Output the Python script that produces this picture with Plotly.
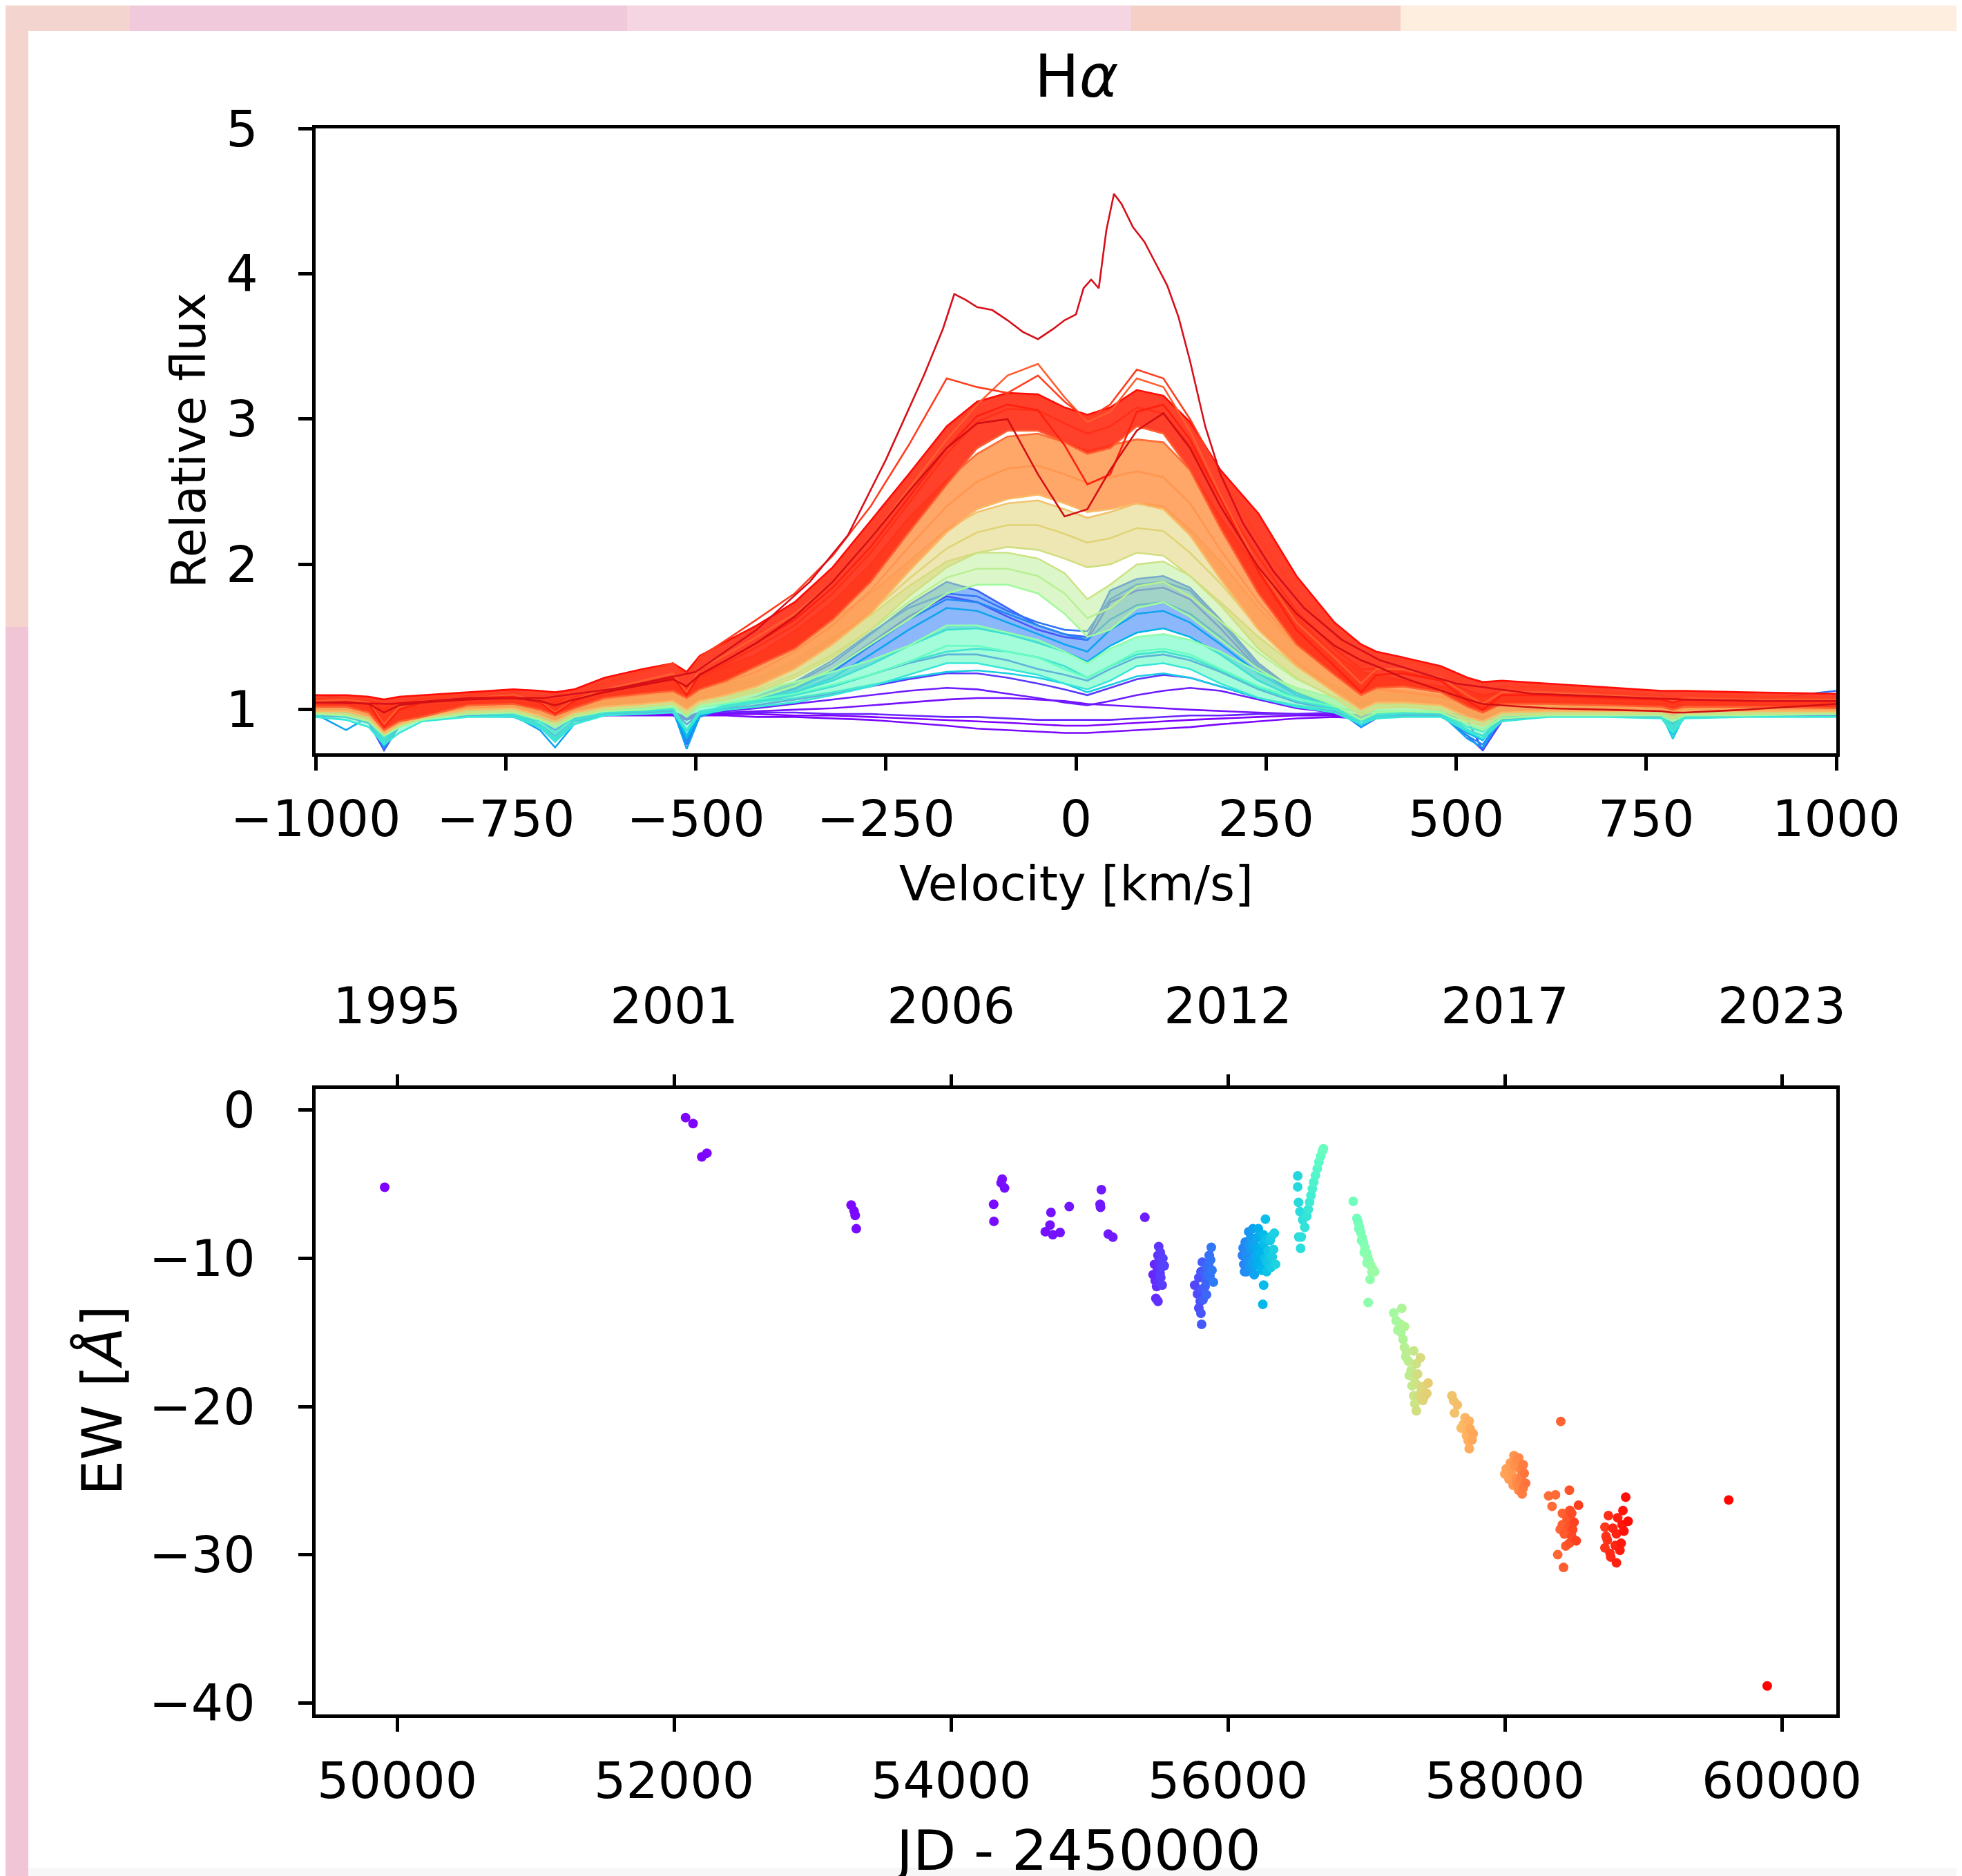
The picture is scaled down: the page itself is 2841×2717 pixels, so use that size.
import math
import plotly.graph_objects as go

W, H = 2841, 2717
FONT = "DejaVu Sans"

# ---------------- Top panel: H-alpha profiles (velocity km/s -> relative flux) ----------------
velocity = [-1000, -960, -930, -910, -890, -860, -800, -740, -705, -685,
            -660, -620, -570, -530, -512, -495, -460, -420, -370, -320,
            -270, -220, -170, -130, -90, -50, -15, 15, 45, 80,
            115, 150, 190, 240, 290, 340, 375, 395, 430, 480,
            515, 535, 560, 620, 700, 770, 785, 800, 880, 1000]

# earliest spectra (purple)
pur_a = [0.97, 0.97, 0.96, 0.92, 0.96, 0.97, 0.97, 0.97, 0.95, 0.93,
         0.96, 0.97, 0.97, 0.97, 0.94, 0.97, 0.97, 0.97, 0.96, 0.96,
         0.95, 0.94, 0.93, 0.92, 0.91, 0.90, 0.89, 0.89, 0.90, 0.91,
         0.92, 0.93, 0.94, 0.95, 0.96, 0.96, 0.95, 0.96, 0.96, 0.97,
         0.95, 0.94, 0.96, 0.97, 0.97, 0.97, 0.96, 0.97, 0.97, 0.97]
pur_b = [0.96, 0.96, 0.95, 0.90, 0.95, 0.96, 0.96, 0.96, 0.94, 0.92,
         0.95, 0.96, 0.96, 0.96, 0.93, 0.96, 0.96, 0.95, 0.95, 0.94,
         0.93, 0.91, 0.89, 0.87, 0.86, 0.85, 0.84, 0.84, 0.85, 0.86,
         0.87, 0.88, 0.90, 0.92, 0.94, 0.95, 0.94, 0.95, 0.96, 0.96,
         0.94, 0.93, 0.95, 0.96, 0.96, 0.96, 0.95, 0.96, 0.96, 0.96]
pur_c = [0.97, 0.97, 0.96, 0.93, 0.96, 0.97, 0.97, 0.97, 0.95, 0.94,
         0.96, 0.97, 0.97, 0.98, 0.95, 0.98, 0.98, 0.99, 1.00, 1.01,
         1.03, 1.05, 1.07, 1.08, 1.08, 1.07, 1.06, 1.04, 1.03, 1.02,
         1.01, 1.00, 0.99, 0.98, 0.97, 0.97, 0.96, 0.97, 0.97, 0.97,
         0.95, 0.94, 0.96, 0.97, 0.97, 0.97, 0.96, 0.97, 0.97, 0.97]
pur_d = [0.97, 0.97, 0.96, 0.92, 0.96, 0.97, 0.97, 0.97, 0.95, 0.93,
         0.96, 0.97, 0.98, 0.98, 0.94, 0.98, 0.99, 1.01, 1.04, 1.07,
         1.10, 1.13, 1.15, 1.14, 1.11, 1.08, 1.05, 1.03, 1.06, 1.10,
         1.13, 1.15, 1.13, 1.07, 1.01, 0.98, 0.95, 0.97, 0.97, 0.97,
         0.94, 0.93, 0.96, 0.97, 0.97, 0.97, 0.96, 0.97, 0.97, 0.97]
pur_e = [0.98, 0.98, 0.97, 0.93, 0.97, 0.98, 0.98, 0.98, 0.96, 0.94,
         0.97, 0.98, 0.98, 0.98, 0.95, 0.98, 0.98, 0.98, 0.98, 0.97,
         0.97, 0.96, 0.95, 0.95, 0.94, 0.93, 0.93, 0.93, 0.93, 0.94,
         0.95, 0.96, 0.96, 0.97, 0.97, 0.98, 0.96, 0.97, 0.98, 0.98,
         0.96, 0.95, 0.97, 0.98, 0.98, 0.98, 0.97, 0.98, 0.98, 0.98]

# blue spectra
blue_a = [0.97, 0.96, 0.94, 0.86, 0.93, 0.96, 0.97, 0.97, 0.93, 0.88,
          0.95, 0.97, 0.98, 0.99, 0.90, 0.97, 1.00, 1.03, 1.07, 1.11,
          1.16, 1.21, 1.25, 1.25, 1.22, 1.18, 1.14, 1.10, 1.15, 1.21,
          1.24, 1.22, 1.16, 1.08, 1.02, 0.99, 0.95, 0.97, 0.97, 0.97,
          0.93, 0.72, 0.92, 0.97, 0.97, 0.97, 0.95, 0.96, 0.97, 0.97]
blue_b = [0.97, 0.96, 0.93, 0.82, 0.92, 0.96, 0.97, 0.96, 0.92, 0.86,
          0.94, 0.97, 0.98, 0.99, 0.86, 0.97, 1.01, 1.05, 1.10, 1.16,
          1.24, 1.32, 1.38, 1.38, 1.34, 1.28, 1.24, 1.20, 1.28, 1.36,
          1.38, 1.34, 1.26, 1.14, 1.05, 1.00, 0.94, 0.96, 0.97, 0.97,
          0.90, 0.86, 0.95, 0.97, 0.97, 0.96, 0.94, 0.96, 0.97, 0.97]
blue_c = [0.96, 0.95, 0.91, 0.72, 0.89, 0.95, 0.96, 0.95, 0.88, 0.80,
          0.92, 0.96, 0.98, 0.99, 0.76, 0.95, 1.01, 1.06, 1.15, 1.28,
          1.46, 1.64, 1.78, 1.74, 1.64, 1.55, 1.50, 1.48, 1.74, 1.82,
          1.84, 1.76, 1.56, 1.28, 1.10, 1.01, 0.88, 0.94, 0.96, 0.96,
          0.82, 0.72, 0.93, 0.96, 0.96, 0.95, 0.91, 0.95, 0.96, 0.97]
blue_d = [0.97, 0.96, 0.92, 0.74, 0.90, 0.96, 0.97, 0.96, 0.89, 0.80,
          0.93, 0.97, 0.99, 1.00, 0.78, 0.96, 1.02, 1.08, 1.18, 1.32,
          1.52, 1.72, 1.88, 1.82, 1.70, 1.58, 1.52, 1.50, 1.82, 1.90,
          1.92, 1.84, 1.62, 1.32, 1.12, 1.02, 0.90, 0.95, 0.97, 0.97,
          0.84, 0.80, 0.94, 0.97, 0.97, 0.96, 0.90, 0.96, 0.97, 0.97]
blue_e = [1.10, 1.08, 0.93, 0.78, 0.91, 0.96, 0.97, 0.96, 0.90, 0.82,
          0.93, 0.97, 0.99, 1.00, 0.80, 0.97, 1.03, 1.09, 1.19, 1.34,
          1.53, 1.70, 1.80, 1.78, 1.68, 1.60, 1.55, 1.54, 1.76, 1.86,
          1.88, 1.82, 1.60, 1.30, 1.12, 1.03, 0.92, 0.96, 0.97, 0.97,
          0.86, 0.82, 0.95, 0.97, 0.97, 0.96, 0.92, 0.96, 1.06, 1.13]

# cyan spectra
cyan_a = [0.97, 0.96, 0.92, 0.76, 0.91, 0.96, 0.97, 0.96, 0.88, 0.78,
          0.92, 0.97, 0.99, 1.00, 0.77, 0.96, 1.02, 1.07, 1.14, 1.26,
          1.44, 1.62, 1.76, 1.74, 1.66, 1.58, 1.52, 1.48, 1.62, 1.72,
          1.74, 1.66, 1.50, 1.28, 1.12, 1.03, 0.90, 0.95, 0.97, 0.97,
          0.82, 0.76, 0.95, 0.97, 0.97, 0.96, 0.90, 0.96, 0.97, 0.98]
cyan_b = [0.97, 0.86, 0.95, 0.74, 0.90, 0.96, 0.97, 0.96, 0.86, 0.74,
          0.90, 0.97, 0.99, 1.00, 0.73, 0.95, 1.02, 1.06, 1.12, 1.22,
          1.38, 1.55, 1.70, 1.68, 1.60, 1.52, 1.45, 1.40, 1.55, 1.66,
          1.68, 1.60, 1.45, 1.25, 1.10, 1.02, 0.88, 0.95, 0.97, 0.97,
          0.80, 0.74, 0.95, 0.97, 0.97, 0.96, 0.83, 0.95, 0.97, 0.97]
cyan_c = [0.98, 0.96, 0.94, 0.80, 0.93, 0.97, 0.98, 0.97, 0.89, 0.79,
          0.93, 0.98, 1.00, 1.01, 0.80, 0.97, 1.03, 1.07, 1.12, 1.20,
          1.31, 1.44, 1.55, 1.56, 1.52, 1.46, 1.40, 1.33, 1.44, 1.53,
          1.56, 1.50, 1.38, 1.20, 1.08, 1.02, 0.90, 0.96, 0.98, 0.98,
          0.84, 0.79, 0.96, 0.98, 0.98, 0.97, 0.86, 0.96, 0.98, 0.98]
cyan_d = [0.98, 0.95, 0.93, 0.78, 0.92, 0.97, 0.98, 0.97, 0.90, 0.80,
          0.93, 0.98, 1.00, 1.01, 0.82, 0.98, 1.03, 1.06, 1.10, 1.16,
          1.24, 1.33, 1.40, 1.42, 1.40, 1.36, 1.30, 1.22, 1.30, 1.38,
          1.40, 1.36, 1.27, 1.15, 1.06, 1.01, 0.92, 0.97, 0.98, 0.98,
          0.86, 0.82, 0.96, 0.98, 0.98, 0.97, 0.88, 0.96, 0.98, 0.98]
cyan_e = [0.99, 0.97, 0.95, 0.82, 0.94, 0.98, 0.99, 0.98, 0.92, 0.84,
          0.95, 0.99, 1.00, 1.01, 0.86, 0.99, 1.02, 1.05, 1.08, 1.12,
          1.17, 1.22, 1.26, 1.27, 1.25, 1.22, 1.18, 1.12, 1.17, 1.23,
          1.25, 1.22, 1.16, 1.08, 1.03, 1.00, 0.93, 0.97, 0.98, 0.98,
          0.88, 0.85, 0.96, 0.98, 0.98, 0.97, 0.80, 0.96, 0.98, 0.99]

# green bundle (lower / middle / upper)
grn_lo = [0.95, 0.93, 0.88, 0.76, 0.84, 0.92, 0.95, 0.95, 0.88, 0.78,
          0.90, 0.96, 0.97, 0.98, 0.85, 0.97, 1.00, 1.02, 1.05, 1.10,
          1.16, 1.24, 1.32, 1.32, 1.28, 1.24, 1.18, 1.14, 1.20, 1.30,
          1.32, 1.28, 1.18, 1.08, 1.02, 0.98, 0.90, 0.94, 0.95, 0.95,
          0.85, 0.80, 0.92, 0.95, 0.95, 0.94, 0.84, 0.94, 0.95, 0.95]
grn_mid = [0.99, 0.99, 0.97, 0.90, 0.95, 0.98, 0.99, 0.99, 0.96, 0.92,
           0.97, 1.00, 1.01, 1.02, 0.96, 1.02, 1.04, 1.07, 1.11, 1.17,
           1.24, 1.33, 1.44, 1.44, 1.40, 1.36, 1.28, 1.22, 1.30, 1.40,
           1.42, 1.38, 1.28, 1.16, 1.08, 1.02, 0.98, 0.99, 0.99, 0.99,
           0.94, 0.92, 0.97, 0.98, 0.98, 0.98, 0.95, 0.98, 0.98, 0.99]
grn_hi = [1.03, 1.03, 1.02, 1.00, 1.01, 1.02, 1.03, 1.03, 1.02, 1.01,
          1.02, 1.04, 1.06, 1.07, 1.03, 1.08, 1.10, 1.13, 1.19, 1.26,
          1.34, 1.44, 1.58, 1.58, 1.53, 1.48, 1.40, 1.32, 1.42, 1.50,
          1.52, 1.48, 1.40, 1.26, 1.15, 1.08, 1.05, 1.04, 1.03, 1.03,
          1.01, 1.00, 1.01, 1.02, 1.02, 1.02, 1.01, 1.02, 1.02, 1.03]

# yellow-green bundle
ygr_lo = [0.97, 0.96, 0.92, 0.82, 0.88, 0.93, 0.97, 0.98, 0.93, 0.88,
          0.95, 0.99, 1.00, 1.02, 0.95, 1.02, 1.05, 1.08, 1.16, 1.28,
          1.45, 1.62, 1.80, 1.86, 1.86, 1.80, 1.66, 1.50, 1.55, 1.70,
          1.74, 1.64, 1.48, 1.28, 1.13, 1.03, 0.93, 0.98, 0.99, 0.98,
          0.90, 0.86, 0.94, 0.96, 0.96, 0.96, 0.92, 0.96, 0.96, 0.97]
ygr_mid = [1.01, 1.01, 0.99, 0.94, 0.97, 0.99, 1.01, 1.02, 1.00, 0.97,
           1.01, 1.03, 1.05, 1.07, 1.03, 1.08, 1.11, 1.14, 1.24, 1.38,
           1.55, 1.74, 1.91, 1.97, 1.97, 1.92, 1.80, 1.63, 1.70, 1.85,
           1.88, 1.78, 1.61, 1.39, 1.21, 1.09, 1.03, 1.05, 1.04, 1.03,
           0.98, 0.96, 0.99, 1.00, 1.00, 1.00, 0.99, 1.00, 1.00, 1.01]
ygr_hi = [1.05, 1.05, 1.04, 1.02, 1.03, 1.04, 1.05, 1.06, 1.05, 1.04,
          1.06, 1.08, 1.11, 1.13, 1.09, 1.15, 1.18, 1.22, 1.34, 1.50,
          1.65, 1.85, 2.02, 2.08, 2.08, 2.04, 1.94, 1.76, 1.86, 2.00,
          2.02, 1.92, 1.74, 1.50, 1.30, 1.16, 1.12, 1.12, 1.10, 1.08,
          1.04, 1.03, 1.04, 1.05, 1.04, 1.04, 1.04, 1.04, 1.04, 1.05]

# khaki bundle
kha_lo = [0.98, 0.97, 0.93, 0.83, 0.89, 0.94, 0.98, 0.99, 0.94, 0.90,
          0.96, 1.00, 1.02, 1.04, 0.97, 1.04, 1.07, 1.12, 1.22, 1.36,
          1.55, 1.78, 1.98, 2.08, 2.12, 2.10, 2.04, 1.98, 2.00, 2.08,
          2.06, 1.92, 1.72, 1.42, 1.22, 1.08, 0.96, 1.01, 1.02, 1.00,
          0.92, 0.89, 0.96, 0.97, 0.97, 0.97, 0.94, 0.97, 0.97, 0.98]
kha_mid = [1.02, 1.02, 1.00, 0.95, 0.98, 1.01, 1.02, 1.03, 1.01, 0.99,
           1.02, 1.05, 1.07, 1.09, 1.05, 1.11, 1.15, 1.20, 1.32, 1.48,
           1.67, 1.90, 2.11, 2.22, 2.27, 2.27, 2.21, 2.15, 2.18, 2.25,
           2.23, 2.08, 1.87, 1.56, 1.33, 1.15, 1.06, 1.08, 1.07, 1.05,
           1.00, 0.98, 1.01, 1.01, 1.01, 1.01, 1.00, 1.01, 1.01, 1.02]
kha_hi = [1.06, 1.06, 1.05, 1.02, 1.04, 1.06, 1.07, 1.07, 1.06, 1.05,
          1.07, 1.10, 1.13, 1.16, 1.12, 1.19, 1.24, 1.30, 1.44, 1.62,
          1.80, 2.02, 2.24, 2.36, 2.42, 2.44, 2.38, 2.32, 2.36, 2.42,
          2.40, 2.24, 2.02, 1.70, 1.44, 1.25, 1.16, 1.15, 1.13, 1.10,
          1.06, 1.04, 1.06, 1.06, 1.05, 1.05, 1.05, 1.05, 1.05, 1.06]

# orange bundle
org_lo = [0.99, 0.99, 0.95, 0.84, 0.90, 0.95, 1.00, 1.01, 0.96, 0.92,
          0.98, 1.02, 1.04, 1.06, 1.00, 1.06, 1.10, 1.16, 1.28, 1.45,
          1.66, 1.95, 2.22, 2.38, 2.45, 2.48, 2.42, 2.36, 2.38, 2.42,
          2.38, 2.20, 1.90, 1.55, 1.30, 1.12, 1.00, 1.05, 1.05, 1.03,
          0.95, 0.92, 0.98, 0.99, 0.99, 0.99, 0.97, 0.99, 0.99, 0.99]
org_mid = [1.03, 1.03, 1.02, 0.97, 1.00, 1.02, 1.04, 1.05, 1.03, 1.01,
           1.04, 1.07, 1.10, 1.12, 1.08, 1.14, 1.19, 1.26, 1.40, 1.58,
           1.82, 2.12, 2.40, 2.57, 2.66, 2.68, 2.62, 2.56, 2.60, 2.64,
           2.60, 2.42, 2.10, 1.74, 1.45, 1.24, 1.12, 1.14, 1.12, 1.09,
           1.04, 1.02, 1.04, 1.04, 1.03, 1.03, 1.02, 1.03, 1.03, 1.03]
org_hi = [1.07, 1.07, 1.06, 1.04, 1.05, 1.07, 1.08, 1.09, 1.08, 1.07,
          1.09, 1.13, 1.17, 1.20, 1.15, 1.22, 1.30, 1.38, 1.54, 1.74,
          2.00, 2.32, 2.58, 2.76, 2.88, 2.90, 2.84, 2.78, 2.82, 2.86,
          2.84, 2.65, 2.32, 1.96, 1.64, 1.38, 1.26, 1.24, 1.20, 1.16,
          1.11, 1.09, 1.10, 1.09, 1.08, 1.07, 1.07, 1.07, 1.07, 1.07]

# red bundle
red_lo = [1.02, 1.02, 0.98, 0.86, 0.92, 0.95, 1.03, 1.04, 1.00, 0.96,
          1.01, 1.08, 1.11, 1.13, 1.08, 1.14, 1.20, 1.30, 1.42, 1.62,
          1.88, 2.22, 2.55, 2.80, 2.92, 2.92, 2.84, 2.76, 2.80, 2.95,
          2.90, 2.65, 2.25, 1.80, 1.45, 1.24, 1.10, 1.15, 1.16, 1.12,
          1.02, 0.98, 1.04, 1.04, 1.03, 1.02, 1.00, 1.02, 1.02, 1.01]
red_mid = [1.06, 1.06, 1.05, 1.00, 1.03, 1.05, 1.08, 1.09, 1.07, 1.05,
           1.08, 1.14, 1.18, 1.21, 1.15, 1.23, 1.32, 1.43, 1.58, 1.80,
           2.08, 2.42, 2.76, 2.98, 3.07, 3.06, 2.97, 2.90, 2.95, 3.08,
           3.04, 2.82, 2.45, 2.05, 1.68, 1.42, 1.28, 1.28, 1.26, 1.21,
           1.13, 1.10, 1.12, 1.11, 1.09, 1.08, 1.07, 1.08, 1.07, 1.06]
red_hi = [1.10, 1.10, 1.09, 1.07, 1.09, 1.10, 1.12, 1.14, 1.13, 1.12,
          1.14, 1.22, 1.28, 1.32, 1.26, 1.37, 1.47, 1.58, 1.74, 1.98,
          2.30, 2.62, 2.95, 3.12, 3.18, 3.17, 3.08, 3.03, 3.08, 3.20,
          3.16, 2.98, 2.65, 2.35, 1.92, 1.60, 1.45, 1.40, 1.36, 1.30,
          1.22, 1.19, 1.20, 1.18, 1.15, 1.13, 1.13, 1.13, 1.12, 1.11]

# individual strong red spectra
red_x1 = [1.06, 1.07, 1.05, 0.90, 1.02, 1.06, 1.08, 1.10, 1.06, 0.98,
          1.07, 1.14, 1.20, 1.25, 1.12, 1.28, 1.38, 1.50, 1.66, 1.88,
          2.18, 2.52, 2.86, 3.10, 3.30, 3.38, 3.15, 2.98, 3.05, 3.28,
          3.22, 2.92, 2.48, 1.98, 1.60, 1.36, 1.18, 1.28, 1.28, 1.22,
          1.10, 1.04, 1.12, 1.12, 1.10, 1.08, 1.06, 1.08, 1.07, 1.07]
red_x2 = [1.08, 1.08, 1.07, 0.96, 1.05, 1.08, 1.10, 1.12, 1.09, 1.03,
          1.10, 1.18, 1.26, 1.32, 1.22, 1.36, 1.48, 1.62, 1.80, 2.06,
          2.40, 2.82, 3.28, 3.22, 3.18, 3.30, 3.12, 3.00, 3.10, 3.34,
          3.28, 3.00, 2.62, 2.18, 1.80, 1.52, 1.30, 1.36, 1.34, 1.28,
          1.16, 1.12, 1.16, 1.15, 1.12, 1.10, 1.08, 1.10, 1.09, 1.08]
red_x3 = [1.05, 1.05, 1.04, 0.88, 1.00, 1.05, 1.08, 1.09, 1.05, 0.97,
          1.06, 1.13, 1.18, 1.22, 1.10, 1.24, 1.34, 1.46, 1.62, 1.84,
          2.12, 2.46, 2.80, 3.02, 3.10, 3.06, 2.82, 2.55, 2.62, 3.05,
          3.10, 2.86, 2.45, 1.95, 1.55, 1.30, 1.12, 1.24, 1.25, 1.20,
          1.06, 1.00, 1.10, 1.10, 1.08, 1.07, 1.05, 1.07, 1.06, 1.06]
red_dip = [1.05, 1.05, 1.04, 0.98, 1.03, 1.05, 1.07, 1.08, 1.06, 1.03,
           1.07, 1.12, 1.17, 1.21, 1.16, 1.24, 1.34, 1.46, 1.64, 1.88,
           2.18, 2.50, 2.80, 2.97, 3.00, 2.62, 2.33, 2.38, 2.65, 2.92,
           3.04, 2.80, 2.40, 1.98, 1.66, 1.44, 1.34, 1.30, 1.22, 1.13,
           1.07, 1.04, 1.03, 1.01, 1.00, 0.99, 0.98, 0.98, 1.00, 1.04]

# latest spectrum (highest peak)
v_last = [-1000, -900, -800, -700, -600, -500, -420, -350, -300, -250,
          -200, -175, -160, -145, -130, -110, -90, -70, -50, -30,
          -15, 0, 10, 20, 30, 40, 50, 60, 75, 90,
          105, 120, 135, 150, 170, 190, 220, 260, 300, 350,
          400, 500, 600, 700, 800, 900, 1000]
f_last = [1.05, 1.04, 1.08, 1.08, 1.15, 1.26, 1.55, 1.88, 2.20, 2.72,
          3.30, 3.62, 3.86, 3.82, 3.77, 3.75, 3.68, 3.60, 3.55, 3.62,
          3.68, 3.72, 3.90, 3.96, 3.90, 4.30, 4.55, 4.48, 4.32, 4.22,
          4.07, 3.92, 3.70, 3.40, 2.95, 2.62, 2.28, 1.95, 1.70, 1.48,
          1.34, 1.18, 1.11, 1.09, 1.07, 1.06, 1.06]

vel_ticks = [-1000, -750, -500, -250, 0, 250, 500, 750, 1000]
vel_ticktext = ["\u22121000", "\u2212750", "\u2212500", "\u2212250", "0", "250", "500", "750", "1000"]
flux_ticks = [1, 2, 3, 4, 5]

# ---------------- Bottom panel: equivalent width vs JD ----------------
ew_jd = [
    # 1995-2010
    49910, 52083, 52137, 52200, 52237, 53279, 53300, 53308, 53316, 54308,
    54310, 54362, 54370, 54387, 54681, 54715, 54722, 54735, 54788, 54854,
    55077, 55080, 55086, 55136, 55169, 55400,
    # ~55500
    55460, 55470, 55475, 55480, 55485, 55490, 55495, 55495, 55500, 55500,
    55505, 55510, 55512, 55515, 55520, 55525, 55530, 55540,
    # ~55800
    55760, 55780, 55790, 55790, 55800, 55805, 55805, 55810, 55810, 55815,
    55820, 55830, 55835, 55840, 55845, 55850, 55855, 55860, 55865, 55870,
    55875, 55880, 55885, 55895,
    # ~56200
    56105, 56110, 56115, 56120, 56125, 56130, 56135, 56140, 56145, 56150,
    56155, 56160, 56165, 56170, 56175, 56180, 56185, 56190, 56195, 56200,
    56205, 56210, 56215, 56220, 56225, 56230, 56240, 56245, 56252, 56255,
    56258, 56260, 56265, 56271, 56275, 56280, 56285, 56290, 56300, 56305,
    56310, 56315, 56320, 56330, 56335, 56344,
    # ~56600
    56504, 56504, 56510, 56512, 56520, 56525, 56530, 56540, 56555, 56570,
    56580, 56590, 56600, 56610, 56620, 56632, 56645, 56657, 56670, 56682,
    56690,
    # ~57000
    56905, 56931, 56940, 56945, 56950, 56960, 56965, 56970, 56980, 56985,
    56990, 57000, 57005, 57010, 57013, 57020, 57027, 57030, 57040, 57045,
    57060,
    # ~57300
    57198, 57215, 57227, 57246, 57250, 57256, 57265, 57275, 57275, 57284,
    57290, 57304, 57310, 57323, 57330, 57342, 57342, 57342, 57350, 57361,
    57361, 57361, 57370, 57380, 57390, 57395, 57408, 57408, 57420, 57437,
    57446,
    # ~57700
    57618, 57630, 57637, 57657, 57685, 57700, 57713, 57723, 57723, 57735,
    57742, 57743, 57750, 57763, 57771,
    # ~58100
    58000, 58010, 58030, 58040, 58050, 58060, 58066, 58070, 58075, 58083,
    58085, 58090, 58100, 58100, 58110, 58116, 58120, 58125, 58133, 58133,
    58140, 58150,
    # ~58400
    58316, 58341, 58366, 58382, 58400, 58404, 58416, 58416, 58424, 58430,
    58440, 58450, 58466, 58466, 58466, 58470, 58483, 58483, 58490, 58500,
    58516, 58532,
    # ~58800
    58723, 58723, 58731, 58740, 58748, 58760, 58765, 58780, 58798, 58806,
    58806, 58815, 58831, 58840, 58848, 58853, 58860, 58873, 58890,
    # latest
    59617, 59895]
ew_val = [
    -5.2, -0.5, -0.9, -3.15, -2.9, -6.4, -6.8, -7.1, -8.0, -6.35,
    -7.5, -4.9, -4.65, -5.25, -8.2, -7.75, -6.9, -8.4, -8.25, -6.5,
    -6.35, -6.55, -5.36, -8.36, -8.57, -7.23,
    -11.1, -10.4, -11.5, -12.7, -11.9, -10.8, -9.8, -12.9, -9.2, -11.6,
    -10.2, -11.0, -9.6, -11.3, -10.6, -11.8, -10.0, -10.5,
    -11.8, -12.4, -13.35, -11.3, -12.9, -10.9, -13.7, -12.1, -14.45, -10.25,
    -12.8, -11.0, -11.9, -11.5, -12.45, -10.6, -11.1, -10.4, -9.8, -11.2,
    -10.1, -9.25, -10.8, -11.6,
    -9.8, -9.3, -10.4, -10.9, -8.9, -9.6, -10.9, -9.9, -10.2, -8.2,
    -9.1, -10.6, -8.6, -9.4, -10.2, -8.0, -9.0, -11.1, -10.5, -9.9,
    -9.3, -8.6, -10.1, -8.0, -10.5, -9.7, -9.2, -10.8, -13.1, -8.4,
    -11.8, -9.0, -10.0, -7.35, -8.7, -10.9, -10.3, -9.5, -9.9, -8.8,
    -10.6, -8.5, -9.9, -9.4, -8.3, -10.4,
    -4.43, -5.17, -6.22, -8.55, -6.84, -9.32, -8.55, -7.4, -7.9, -7.15,
    -6.7, -6.2, -5.75, -5.3, -4.85, -4.4, -3.95, -3.5, -3.1, -2.75,
    -2.6,
    -6.15, -7.3, -7.55, -8.0, -7.9, -8.25, -8.8, -8.6, -8.95, -9.6,
    -9.3, -9.6, -10.3, -9.9, -12.98, -10.2, -11.42, -10.45, -10.9, -10.7,
    -10.9,
    -13.68, -14.2, -14.84, -14.45, -15.0, -13.37, -15.46, -14.6, -16.0, -16.63,
    -16.3, -16.94, -17.9, -17.56, -18.6, -18.03, -16.24, -19.27, -19.8, -17.1,
    -18.49, -20.28, -17.8, -19.27, -16.71, -19.0, -18.65, -19.58, -19.3, -19.11,
    -18.41,
    -19.27, -19.6, -20.43, -19.89, -21.45, -21.2, -20.75, -21.6, -21.95, -22.3,
    -20.98, -22.84, -21.5, -22.25, -21.83,
    -24.55, -24.2, -24.9, -23.8, -24.4, -25.3, -23.31, -23.9, -24.0, -24.86,
    -23.6, -25.2, -23.46, -25.64, -25.0, -24.24, -24.7, -25.9, -23.93, -25.49,
    -24.5, -25.17,
    -26.03, -26.73, -25.95, -29.99, -28.28, -21.0, -27.2, -27.97, -30.85, -28.6,
    -29.4, -27.6, -25.64, -28.13, -29.22, -27.0, -27.2, -28.75, -28.3, -27.8,
    -29.06, -26.65,
    -28.13, -29.53, -28.75, -29.0, -27.35, -29.9, -30.15, -28.2, -29.37, -28.59,
    -30.54, -27.5, -29.69, -29.22, -27.97, -27.01, -28.4, -26.11, -27.74,
    -26.3, -38.85]
# position of each spectrum in the time-ordered colour sequence (0 = first, 1 = last)
ew_seq = [
    0.000, 0.004, 0.005, 0.006, 0.007, 0.009, 0.010, 0.011, 0.012, 0.014,
    0.015, 0.016, 0.017, 0.018, 0.020, 0.021, 0.022, 0.023, 0.024, 0.026,
    0.028, 0.029, 0.030, 0.032, 0.033, 0.038,
    0.045, 0.047, 0.050, 0.052, 0.054, 0.057, 0.059, 0.061, 0.064, 0.066,
    0.068, 0.071, 0.073, 0.075, 0.078, 0.080, 0.082, 0.085,
    0.090, 0.093, 0.096, 0.099, 0.102, 0.105, 0.108, 0.111, 0.114, 0.117,
    0.120, 0.123, 0.126, 0.129, 0.132, 0.135, 0.139, 0.142, 0.145, 0.148,
    0.151, 0.154, 0.157, 0.160,
    0.170, 0.173, 0.176, 0.179, 0.182, 0.185, 0.188, 0.191, 0.194, 0.198,
    0.201, 0.204, 0.207, 0.210, 0.213, 0.216, 0.219, 0.222, 0.226, 0.229,
    0.232, 0.235, 0.238, 0.241, 0.244, 0.247, 0.250, 0.254, 0.257, 0.260,
    0.263, 0.266, 0.269, 0.272, 0.275, 0.278, 0.282, 0.285, 0.288, 0.291,
    0.294, 0.297, 0.300, 0.303, 0.306, 0.310,
    0.320, 0.323, 0.326, 0.329, 0.332, 0.335, 0.338, 0.342, 0.346, 0.352,
    0.362, 0.372, 0.382, 0.392, 0.402, 0.412, 0.422, 0.432, 0.442, 0.452,
    0.460,
    0.470, 0.474, 0.478, 0.482, 0.486, 0.490, 0.494, 0.498, 0.502, 0.506,
    0.510, 0.514, 0.518, 0.522, 0.526, 0.530, 0.534, 0.538, 0.542, 0.548,
    0.555,
    0.570, 0.574, 0.579, 0.583, 0.587, 0.592, 0.596, 0.600, 0.605, 0.609,
    0.613, 0.618, 0.622, 0.626, 0.631, 0.635, 0.639, 0.644, 0.648, 0.652,
    0.657, 0.661, 0.665, 0.670, 0.674, 0.678, 0.683, 0.687, 0.691, 0.696,
    0.700,
    0.720, 0.724, 0.728, 0.732, 0.736, 0.740, 0.744, 0.748, 0.752, 0.756,
    0.760, 0.764, 0.768, 0.772, 0.775,
    0.780, 0.783, 0.787, 0.790, 0.793, 0.797, 0.800, 0.803, 0.807, 0.810,
    0.813, 0.817, 0.820, 0.823, 0.827, 0.830, 0.833, 0.837, 0.840, 0.843,
    0.847, 0.850,
    0.858, 0.861, 0.864, 0.867, 0.870, 0.873, 0.876, 0.879, 0.882, 0.885,
    0.888, 0.891, 0.894, 0.897, 0.900, 0.903, 0.906, 0.909, 0.912, 0.915,
    0.918, 0.922,
    0.930, 0.933, 0.936, 0.939, 0.942, 0.945, 0.948, 0.951, 0.954, 0.957,
    0.960, 0.963, 0.966, 0.969, 0.972, 0.975, 0.978, 0.981, 0.985,
    0.992, 1.000]

jd_ticks = [50000, 52000, 54000, 56000, 58000, 60000]
year_labels = ["1995", "2001", "2006", "2012", "2017", "2023"]
ew_ticks = [0, -10, -20, -30, -40]
ew_ticktext = ["0", "\u221210", "\u221220", "\u221230", "\u221240"]

for name, arr in list(globals().items()):
    if isinstance(arr, list) and (name.endswith(("_lo", "_mid", "_hi")) or name.startswith(("pur_", "blue_", "cyan_", "red_"))):
        if len(arr) != len(velocity):
            raise ValueError(f"{name} has {len(arr)} values")
assert len(v_last) == len(f_last)
assert len(ew_jd) == len(ew_val) == len(ew_seq), (len(ew_jd), len(ew_val), len(ew_seq))


def rainbow(c, a=None):
    """matplotlib 'rainbow' colormap"""
    r = min(1.0, max(0.0, abs(2 * c - 0.5)))
    g = min(1.0, max(0.0, math.sin(math.pi * c)))
    b = min(1.0, max(0.0, math.cos(math.pi * c / 2)))
    R, G, B = (int(round(255 * t)) for t in (r, g, b))
    if a is None:
        return f"rgb({R},{G},{B})"
    return f"rgba({R},{G},{B},{a})"


fig = go.Figure()
LW = 2.6


def add_line(y, color, x=None, width=LW):
    fig.add_trace(go.Scatter(x=x if x is not None else velocity, y=y, mode="lines",
                             line=dict(color=color, width=width),
                             hoverinfo="skip", showlegend=False))


def add_fill(lo, hi, color):
    fig.add_trace(go.Scatter(x=velocity, y=lo, mode="lines", line=dict(width=0),
                             hoverinfo="skip", showlegend=False))
    fig.add_trace(go.Scatter(x=velocity, y=hi, mode="lines", line=dict(width=0),
                             fill="tonexty", fillcolor=color,
                             hoverinfo="skip", showlegend=False))


def add_band(lo, mid, hi, cs, alpha):
    add_fill(lo, hi, rainbow(cs[1], alpha))
    for arr, c in zip((lo, mid, hi), cs):
        add_line(arr, rainbow(c))


for arr, c in [(pur_a, 0.0), (pur_b, 0.01), (pur_c, 0.02), (pur_d, 0.035), (pur_e, 0.045)]:
    add_line(arr, rainbow(c))
add_fill(cyan_c, blue_d, rainbow(0.16, 0.55))
for arr, c in [(blue_a, 0.07), (blue_b, 0.09), (blue_c, 0.11), (blue_d, 0.13), (blue_e, 0.15)]:
    add_line(arr, rainbow(c))
for arr, c in [(cyan_a, 0.18), (cyan_b, 0.22), (cyan_c, 0.25), (cyan_d, 0.27), (cyan_e, 0.30)]:
    add_line(arr, rainbow(c))

add_band(grn_lo, grn_mid, grn_hi, (0.36, 0.45, 0.53), 0.6)
add_band(ygr_lo, ygr_mid, ygr_hi, (0.57, 0.61, 0.65), 0.5)
add_band(kha_lo, kha_mid, kha_hi, (0.66, 0.69, 0.72), 0.55)
add_band(org_lo, org_mid, org_hi, (0.74, 0.80, 0.86), 0.85)
add_band(red_lo, red_mid, red_hi, (0.88, 0.94, 0.985), 0.92)

add_line(red_x1, rainbow(0.88))
add_line(red_x2, rainbow(0.92))
add_line(red_x3, rainbow(0.96))
add_line(red_dip, "rgb(210,15,20)")
add_line(f_last, "rgb(215,15,25)", x=v_last)

# bottom panel
fig.add_trace(go.Scatter(x=ew_jd, y=ew_val, xaxis="x2", yaxis="y2", mode="markers",
                         marker=dict(size=14, color=[rainbow(c) for c in ew_seq], line=dict(width=0)),
                         hoverinfo="skip", showlegend=False))
fig.add_trace(go.Scatter(x=ew_jd[:1], y=ew_val[:1], xaxis="x3", yaxis="y2", mode="markers",
                         marker=dict(size=1, opacity=0), hoverinfo="skip", showlegend=False))

px_x = lambda p: p / W
px_y = lambda p: 1 - p / H

axis_common = dict(showline=True, linecolor="black", linewidth=4.5, mirror=True,
                   ticks="outside", ticklen=20, tickwidth=4.5, tickcolor="black",
                   showgrid=False, zeroline=False, automargin=False,
                   tickfont=dict(family=FONT, size=73, color="black"))

xdom = [px_x(449), px_x(2651)]
jd_range = [49411, 60394]

shapes = [
    # decorative page background
    dict(type="rect", xref="paper", yref="paper", x0=0, x1=px_x(180), y0=px_y(37), y1=1,
         fillcolor="rgb(244,212,206)", line=dict(width=0), layer="below"),
    dict(type="rect", xref="paper", yref="paper", x0=px_x(180), x1=px_x(900), y0=px_y(37), y1=1,
         fillcolor="rgb(240,201,218)", line=dict(width=0), layer="below"),
    dict(type="rect", xref="paper", yref="paper", x0=px_x(900), x1=px_x(1630), y0=px_y(37), y1=1,
         fillcolor="rgb(245,213,225)", line=dict(width=0), layer="below"),
    dict(type="rect", xref="paper", yref="paper", x0=px_x(1630), x1=px_x(2020), y0=px_y(37), y1=1,
         fillcolor="rgb(245,207,197)", line=dict(width=0), layer="below"),
    dict(type="rect", xref="paper", yref="paper", x0=px_x(2020), x1=1, y0=px_y(37), y1=1,
         fillcolor="rgb(253,238,223)", line=dict(width=0), layer="below"),
    dict(type="rect", xref="paper", yref="paper", x0=0, x1=px_x(33), y0=px_y(900), y1=px_y(37),
         fillcolor="rgb(245,212,206)", line=dict(width=0), layer="below"),
    dict(type="rect", xref="paper", yref="paper", x0=0, x1=px_x(33), y0=0, y1=px_y(900),
         fillcolor="rgb(240,198,215)", line=dict(width=0), layer="below"),
    dict(type="rect", xref="paper", yref="paper", x0=px_x(33), x1=1, y0=0, y1=px_y(2697),
         fillcolor="rgb(247,247,247)", line=dict(width=0), layer="below"),
]

annotations = [
    dict(text="H<i>α</i>", x=px_x(1550), y=px_y(102), xref="paper", yref="paper",
         xanchor="center", yanchor="middle", showarrow=False, font=dict(family=FONT, size=86, color="black")),
    dict(text="Velocity [km/s]", x=px_x(1550), y=px_y(1272), xref="paper", yref="paper",
         xanchor="center", yanchor="middle", showarrow=False, font=dict(family=FONT, size=69, color="black")),
    dict(text="Relative flux", x=px_x(265), y=px_y(630), xref="paper", yref="paper", textangle=-90,
         xanchor="center", yanchor="middle", showarrow=False, font=dict(family=FONT, size=69, color="black")),
    dict(text="EW [<i>Å</i>]", x=px_x(140), y=px_y(2020), xref="paper", yref="paper", textangle=-90,
         xanchor="center", yanchor="middle", showarrow=False, font=dict(family=FONT, size=81, color="black")),
    dict(text="JD - 2450000", x=px_x(1551), y=px_y(2672), xref="paper", yref="paper",
         xanchor="center", yanchor="middle", showarrow=False, font=dict(family=FONT, size=81, color="black")),
]

fig.update_layout(
    template="none",
    width=W, height=H, autosize=False, margin=dict(l=0, r=0, t=0, b=0, pad=0, autoexpand=False),
    paper_bgcolor="white", plot_bgcolor="white", showlegend=False,
    font=dict(family=FONT, color="black"),
    xaxis=dict(axis_common, domain=xdom, range=[-1000, 1000], anchor="y",
               tickvals=vel_ticks, ticktext=vel_ticktext, ticklabelstandoff=8),
    yaxis=dict(axis_common, domain=[px_y(1083), px_y(178)], range=[0.7, 5.0], anchor="x",
               tickvals=flux_ticks, ticktext=[str(t) for t in flux_ticks], ticklabelstandoff=44),
    xaxis2=dict(axis_common, domain=xdom, range=jd_range, anchor="y2",
                tickvals=jd_ticks, ticktext=[str(t) for t in jd_ticks], ticklabelstandoff=9),
    yaxis2=dict(axis_common, domain=[px_y(2475), px_y(1569)], range=[-40.77, 1.44], anchor="x2",
                tickvals=ew_ticks, ticktext=ew_ticktext, ticklabelstandoff=48),
    xaxis3=dict(axis_common, showline=False, mirror=False, overlaying="x2", side="top", anchor="y2",
                range=jd_range, tickvals=jd_ticks, ticktext=year_labels, ticklabelstandoff=45),
    shapes=shapes, annotations=annotations,
)

fig.write_html("out.html", config={"displayModeBar": False})
